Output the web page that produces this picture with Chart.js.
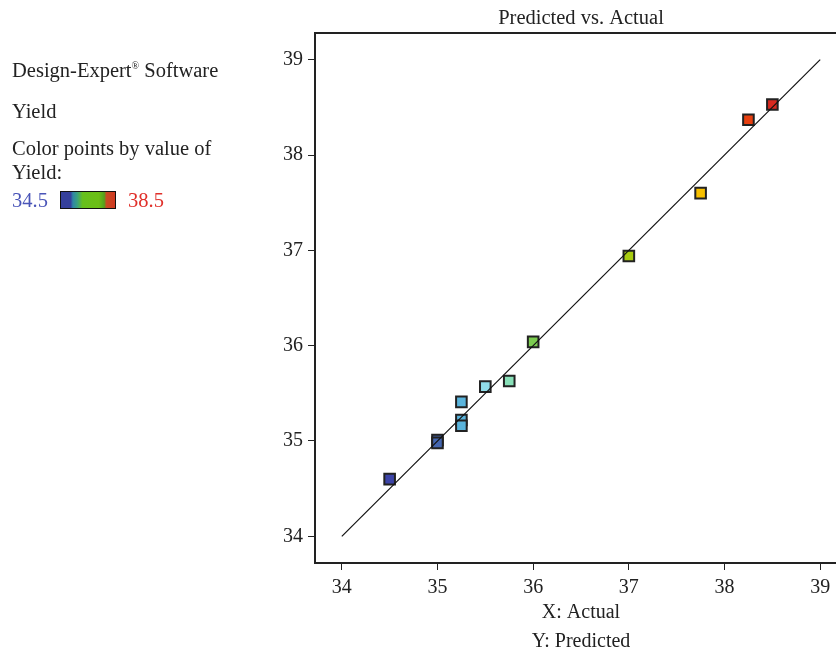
<!DOCTYPE html>
<html>
<head>
<meta charset="utf-8">
<script src="https://cdn.jsdelivr.net/npm/chart.js@4"></script>
<style>
  html, body { margin: 0; padding: 0; background: #fff; overflow: hidden; width: 836px; height: 652px; }
  #wrap { position: relative; width: 836px; height: 652px; overflow: hidden; }
  canvas { position: absolute; left: 0; top: 0; }
  .note { position: absolute; left: 12px; font-family: "Liberation Serif", serif; font-size: 20.5px; line-height: 24px; color: #222; white-space: nowrap; }
  .bar { position: absolute; left: 60px; top: 191px; width: 54px; height: 16px; border: 1px solid #111;
    background: linear-gradient(to right, #35409c 0%, #35409c 18%, #2f86a6 22%, #3aa080 30%, #66c01c 40%, #6cbf16 70%, #54a01c 80%, #c84a22 84%, #d03a22 100%); }
</style>
</head>
<body>
<div id="wrap">
  <canvas id="chart" width="860" height="656"></canvas>
  <div class="note" style="top:54px">Design-Expert<sup style="font-size:10px">®</sup> Software</div>
  <div class="note" style="top:99px">Yield</div>
  <div class="note" style="top:136px">Color points by value of</div>
  <div class="note" style="top:160px">Yield:</div>
  <div class="note" style="top:188px; color:#4a55b8">34.5</div>
  <div class="bar"></div>
  <div class="note" style="top:188px; left:128px; color:#e0302a">38.5</div>
</div>
<script>
const actual = [34.5, 35, 35, 35.25, 35.25, 35.25, 35.5, 35.75, 36, 37, 37.75, 38.25, 38.5];
const predicted = [34.6, 35.01, 34.98, 35.41, 35.22, 35.16, 35.57, 35.63, 36.04, 36.94, 37.6, 38.37, 38.53];
const pointColors = ["#3c44a8", "#4466b0", "#4466b0", "#5ab4dc", "#5ab4dc", "#5ab4dc", "#90dce8", "#88e0b8",
  "#7ccc50", "#a8cc10", "#f8c000", "#e84010", "#d82a20"];
const diagonal = [34, 39];
const tickFont = { family: "Liberation Serif", size: 20 };

const topBorder = {
  id: "topBorder",
  afterDraw(chart) {
    const { ctx, chartArea } = chart;
    ctx.save();
    ctx.strokeStyle = "#222";
    ctx.lineWidth = 2;
    ctx.beginPath();
    ctx.moveTo(chartArea.left - 1, chartArea.top);
    ctx.lineTo(chartArea.right, chartArea.top);
    ctx.stroke();
    ctx.font = "20.5px 'Liberation Serif'";
    ctx.fillStyle = "#222";
    ctx.textAlign = "center";
    ctx.textBaseline = "middle";
    ctx.fillText("Predicted vs. Actual", (chartArea.left + chartArea.right) / 2, 19);
    ctx.restore();
  }
};

new Chart(document.getElementById("chart"), {
  data: {
    datasets: [{
      type: "line",
      data: diagonal.map(v => ({ x: v, y: v })),
      borderColor: "#111",
      borderWidth: 1.2,
      pointRadius: 0
    }, {
      type: "scatter",
      data: actual.map((a, i) => ({ x: a, y: predicted[i] })),
      pointStyle: "rect",
      pointRadius: 7.5,
      backgroundColor: pointColors,
      borderColor: "#222",
      borderWidth: 2
    }]
  },
  options: {
    responsive: false,
    animation: false,
    layout: { padding: { top: 33, right: 13, left: 0, bottom: 0 } },
    plugins: { legend: { display: false }, tooltip: { enabled: false } },
    scales: {
      x: {
        type: "linear",
        min: 33.72, max: 39.28,
        afterFit: s => { s.height = 93; },
        ticks: { stepSize: 1, includeBounds: false, color: "#222", font: tickFont, padding: 6 },
        grid: { drawOnChartArea: false, tickLength: 7, tickColor: "#222" },
        border: { color: "#222", width: 2 },
        title: { display: true, text: ["X: Actual", "Y: Predicted"], color: "#222",
          font: { family: "Liberation Serif", size: 20, lineHeight: 1.45 }, padding: 0 }
      },
      y: {
        type: "linear",
        min: 33.72, max: 39.28,
        afterFit: s => { s.width = 315; },
        ticks: { stepSize: 1, includeBounds: false, color: "#222", font: tickFont, padding: 5 },
        grid: { drawOnChartArea: false, tickLength: 7, tickColor: "#222" },
        border: { color: "#222", width: 2 }
      }
    }
  },
  plugins: [topBorder]
});
</script>
</body>
</html>
